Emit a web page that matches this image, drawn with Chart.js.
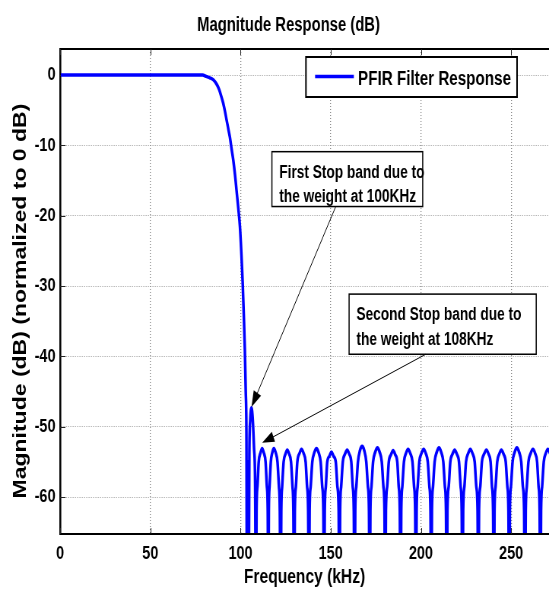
<!DOCTYPE html>
<html>
<head>
<meta charset="utf-8">
<script src="https://cdn.jsdelivr.net/npm/chart.js@4.4.1/dist/chart.umd.min.js"></script>
<style>
  html, body { margin: 0; padding: 0; overflow: hidden; background: #fff; }
  /* the reference is squeezed horizontally, so draw wide and squeeze */
  #wrap { width: 722px; height: 591px; transform: scaleX(0.76039); transform-origin: 0 0; }
</style>
</head>
<body>
<div id="wrap"><canvas id="chart" width="722" height="591"></canvas></div>
<script>
const FONT = '"Liberation Sans", Arial, sans-serif';

const chartTitle = "Magnitude Response (dB)";
const seriesLabel = "PFIR Filter Response";
const xTitle = "Frequency (kHz)";
const yTitle = "Magnitude (dB) (normalized to 0 dB)   ";

const xTicks = [0, 50, 100, 150, 200, 250];
const yTicks = [-60, -50, -40, -30, -20, -10, 0];

// frequency (kHz) and magnitude (dB)
const freqKHz = [
  0, 40, 79,
  81, 83, 85, 87, 88.2, 89.3, 90.4, 91.4, 92.3, 93.2, 94.1, 95.0, 96.0, 97.0, 97.8, 98.8, 99.7,
  100.5, 101.2, 101.8, 102.4, 102.9, 103.3, 103.6,
  104.0, 104.4, 104.9, 105.4, 106.1, 106.8, 107.5, 108.1, 108.6,
  108.9, 109.4, 110.1, 111.1, 112.0, 112.9, 113.9, 114.6, 115.1, 115.4,
  115.7, 116.1, 116.8, 117.6, 118.5, 119.5, 120.5, 121.3, 121.8, 122.2,
  122.6, 123.1, 123.9, 124.9, 125.9, 127.0, 128.0, 128.8, 129.3, 129.7,
  130.1, 130.7, 131.5, 132.7, 133.8, 135.0, 136.1, 136.9, 137.5, 137.9,
  138.3, 138.9, 139.8, 140.9, 142.1, 143.3, 144.4, 145.3, 145.9, 146.3,
  146.7, 147.3, 148.1, 149.3, 150.4, 151.6, 152.8, 153.7, 154.4, 154.8,
  155.2, 155.8, 156.7, 157.9, 159.1, 160.3, 161.4, 162.2, 162.8, 163.2,
  163.6, 164.2, 165.1, 166.2, 167.4, 168.6, 169.7, 170.6, 171.2, 171.6,
  172.0, 172.6, 173.5, 174.7, 175.9, 177.1, 178.3, 179.2, 179.8, 180.2,
  180.6, 181.3, 182.2, 183.4, 184.6, 185.8, 186.9, 187.7, 188.3, 188.7,
  189.1, 189.7, 190.6, 191.7, 192.9, 194.1, 195.3, 196.2, 196.8, 197.2,
  197.6, 198.2, 199.1, 200.3, 201.5, 202.7, 203.8, 204.7, 205.3, 205.7,
  206.1, 206.7, 207.6, 208.8, 210.0, 211.2, 212.4, 213.3, 213.9, 214.3,
  214.7, 215.4, 216.3, 217.5, 218.7, 219.9, 221.1, 222.0, 222.6, 223.0,
  223.4, 224.1, 225.0, 226.2, 227.4, 228.6, 229.8, 230.7, 231.4, 231.8,
  232.2, 232.9, 233.8, 235.0, 236.3, 237.5, 238.6, 239.4, 240.0, 240.4,
  240.8, 241.4, 242.3, 243.4, 244.6, 245.8, 247.0, 247.9, 248.5, 248.9,
  249.3, 249.9, 250.8, 252.0, 253.2, 254.4, 255.6, 256.5, 257.2, 257.6,
  258.1, 258.7, 259.6, 260.8, 262.1, 263.3, 264.4, 265.2, 265.8, 266.2,
  266.6, 267.2, 268.1, 269.2, 270.4, 271.6
];

const magDB = [
  0, 0, 0,
  -0.2, -0.4, -0.7, -1.4, -2.1, -3.0, -4.0, -5.2, -6.4, -7.6, -8.8, -10.4, -12.1, -14.3, -16.4, -19.0, -21.6,
  -25.5, -29.5, -34, -39, -45, -52, -80,
  -55, -80, -54, -49, -47.3, -49, -53, -58, -80,
  -62, -58.5, -55, -53.7, -53.1, -53.7, -55, -58.5, -62, -80,
  -62, -58.5, -55, -53.7, -53.1, -53.7, -55, -58.5, -62, -80,
  -62, -58.5, -55, -53.9, -53.3, -53.9, -55, -58.5, -62, -80,
  -62, -58.5, -55, -53.8, -53.2, -53.8, -55, -58.5, -62, -80,
  -62, -58.5, -55, -53.7, -53.1, -53.7, -55, -58.5, -62, -80,
  -62, -58.5, -55, -54.2, -53.6, -54.2, -55, -58.5, -62, -80,
  -62, -58.5, -55, -53.9, -53.3, -53.9, -55, -58.5, -62, -80,
  -62, -58.5, -55, -53.4, -52.8, -53.4, -55, -58.5, -62, -80,
  -62, -58.5, -55, -53.6, -53.0, -53.6, -55, -58.5, -62, -80,
  -62, -58.5, -55, -54.0, -53.4, -54.0, -55, -58.5, -62, -80,
  -62, -58.5, -55, -53.8, -53.2, -53.8, -55, -58.5, -62, -80,
  -62, -58.5, -55, -53.8, -53.2, -53.8, -55, -58.5, -62, -80,
  -62, -58.5, -55, -53.6, -53.0, -53.6, -55, -58.5, -62, -80,
  -62, -58.5, -55, -53.9, -53.3, -53.9, -55, -58.5, -62, -80,
  -62, -58.5, -55, -53.8, -53.2, -53.8, -55, -58.5, -62, -80,
  -62, -58.5, -55, -53.9, -53.3, -53.9, -55, -58.5, -62, -80,
  -62, -58.5, -55, -53.9, -53.3, -53.9, -55, -58.5, -62, -80,
  -62, -58.5, -55, -53.6, -53.0, -53.6, -55, -58.5, -62, -80,
  -62, -58.5, -55, -53.8, -53.2, -53.8, -55, -58.5, -62, -80,
  -62, -58.5, -55, -53.8, -53.2, -53.8
];

// text boxes with arrows, in data units (kHz, dB)
const noteLines = [
  ["First Stop band due to", "the weight at 100KHz"],
  ["Second Stop band due to", "the weight at 108KHz"]
];
const noteBoxes = [
  { x1: 117.4, x2: 201.0, y1: -10.9, y2: -18.7 },
  { x1: 160.2, x2: 263.9, y1: -31.15, y2: -39.7 }
];
const noteArrows = [
  { fromX: 152.8, fromY: -18.7, toX: 106.1, toY: -47.2 },
  { fromX: 202.7, fromY: -39.7, toX: 112.0, toY: -52.3 }
];

const points = freqKHz.map((f, i) => ({ x: f, y: magDB[i] }));

function arrow(ctx, x1, y1, x2, y2) {
  const ang = Math.atan2(y2 - y1, x2 - x1);
  const len = 16, half = 5.5;
  ctx.beginPath();
  ctx.moveTo(x1, y1);
  ctx.lineTo(x2 - Math.cos(ang) * len * 0.8, y2 - Math.sin(ang) * len * 0.8);
  ctx.stroke();
  ctx.beginPath();
  ctx.moveTo(x2, y2);
  ctx.lineTo(x2 - Math.cos(ang) * len - Math.sin(ang) * half, y2 - Math.sin(ang) * len + Math.cos(ang) * half);
  ctx.lineTo(x2 - Math.cos(ang) * len + Math.sin(ang) * half, y2 - Math.sin(ang) * len - Math.cos(ang) * half);
  ctx.closePath();
  ctx.fill();
}

const decor = {
  id: "decor",
  beforeDatasetsDraw(chart) {
    const { ctx, chartArea: a, scales: { x, y } } = chart;
    ctx.save();
    ctx.strokeStyle = "#000";
    ctx.lineWidth = 2;
    ctx.beginPath();
    ctx.moveTo(a.left, a.top);
    ctx.lineTo(a.right, a.top);
    ctx.stroke();
    // inward tick marks, matlab style
    ctx.lineWidth = 1;
    ctx.strokeStyle = "#222";
    ctx.beginPath();
    x.ticks.forEach(t => {
      const px = Math.round(x.getPixelForValue(t.value)) + 0.5;
      ctx.moveTo(px, a.bottom); ctx.lineTo(px, a.bottom - 6);
      ctx.moveTo(px, a.top); ctx.lineTo(px, a.top + 6);
    });
    y.ticks.forEach(t => {
      const py = Math.round(y.getPixelForValue(t.value)) + 0.5;
      ctx.moveTo(a.left, py); ctx.lineTo(a.left + 7, py);
    });
    ctx.stroke();
    ctx.restore();
  },
  afterDraw(chart) {
    const { ctx, chartArea: a, scales: { x, y } } = chart;
    ctx.save();

    // title
    ctx.fillStyle = "#000";
    ctx.font = "bold 19.5px " + FONT;
    ctx.textAlign = "center";
    ctx.textBaseline = "alphabetic";
    ctx.fillText(chartTitle, 379.4, 30.5);

    // legend box
    ctx.font = "bold 20px " + FONT;
    const tw = ctx.measureText(seriesLabel).width;
    const lw = 12 + 51 + 5.5 + tw + 8, lh = 40;
    const lx = a.right - 42 - lw, ly = a.top + 8;
    ctx.fillStyle = "#fff";
    ctx.fillRect(lx, ly, lw, lh);
    ctx.strokeStyle = "#000";
    ctx.lineWidth = 2;
    ctx.strokeRect(lx, ly, lw, lh);
    ctx.strokeStyle = "#0000ff";
    ctx.lineWidth = 3.5;
    ctx.beginPath();
    ctx.moveTo(lx + 12, ly + 19.5);
    ctx.lineTo(lx + 63, ly + 19.5);
    ctx.stroke();
    ctx.fillStyle = "#000";
    ctx.textAlign = "left";
    ctx.textBaseline = "middle";
    ctx.fillText(seriesLabel, lx + 68.5, ly + 22);

    // annotation boxes
    ctx.font = "bold 18px " + FONT;
    ctx.textBaseline = "alphabetic";
    noteBoxes.forEach((b, i) => {
      const x1 = x.getPixelForValue(b.x1), x2 = x.getPixelForValue(b.x2);
      const y1 = y.getPixelForValue(b.y1), y2 = y.getPixelForValue(b.y2);
      ctx.fillStyle = "#fff";
      ctx.fillRect(x1, y1, x2 - x1, y2 - y1);
      ctx.strokeStyle = "#000";
      ctx.lineWidth = 1.5;
      ctx.strokeRect(x1, y1, x2 - x1, y2 - y1);
      ctx.fillStyle = "#000";
      noteLines[i].forEach((line, k) => ctx.fillText(line, x1 + 9.7, y1 + 26.3 + k * 24.5));
    });

    // arrows
    ctx.strokeStyle = "#000";
    ctx.fillStyle = "#000";
    ctx.lineWidth = 1;
    noteArrows.forEach(r => {
      arrow(ctx, x.getPixelForValue(r.fromX), y.getPixelForValue(r.fromY),
        x.getPixelForValue(r.toX), y.getPixelForValue(r.toY));
    });
    ctx.restore();
  }
};

new Chart(document.getElementById("chart"), {
  type: "line",
  data: {
    datasets: [
      {
        label: seriesLabel,
        data: points,
        borderColor: "#0000ff",
        borderWidth: 3.5,
        pointRadius: 0,
        cubicInterpolationMode: "monotone",
        clip: { left: -1, top: 0, right: 0, bottom: -1 },
      },
    ],
  },
  options: {
    responsive: false,
    animation: false,
    devicePixelRatio: 1,
    layout: { padding: { top: 49, left: 0, right: 0, bottom: 0 } },
    plugins: {
      legend: { display: false },
      title: { display: false },
      tooltip: { enabled: false },
    },
    scales: {
      x: {
        type: "linear",
        min: 0,
        max: 271,
        afterBuildTicks: s => { s.ticks = xTicks.map(v => ({ value: v })); },
        afterFit: s => { s.height = 57; },
        ticks: {
          font: { family: FONT, size: 19, weight: "bold" },
          color: "#000",
          padding: 8,
          maxRotation: 0,
          autoSkip: false,
        },
        grid: { color: "#8a8a8a", lineWidth: 1.3, drawTicks: false },
        border: { display: true, color: "#000", width: 2, dash: [1, 2] },
        title: {
          display: true,
          text: xTitle,
          font: { family: FONT, size: 20.5, weight: "bold" },
          color: "#000",
          padding: { top: 0, bottom: 1 },
        },
      },
      y: {
        min: -65.26,
        max: 3.7,
        afterBuildTicks: s => { s.ticks = yTicks.map(v => ({ value: v })); },
        afterFit: s => { s.width = 79; },
        ticks: {
          font: { family: FONT, size: 19, weight: "bold" },
          color: "#000",
          padding: 6,
          autoSkip: false,
        },
        grid: { color: "#8a8a8a", lineWidth: 1, drawTicks: false },
        border: { display: true, color: "#000", width: 2.6, dash: [1, 2] },
        title: {
          display: true,
          text: yTitle,
          font: { family: FONT, size: 23, weight: "bold" },
          color: "#000",
          padding: { top: 14, bottom: 0 },
        },
      },
    },
  },
  plugins: [decor],
});
</script>
</body>
</html>
